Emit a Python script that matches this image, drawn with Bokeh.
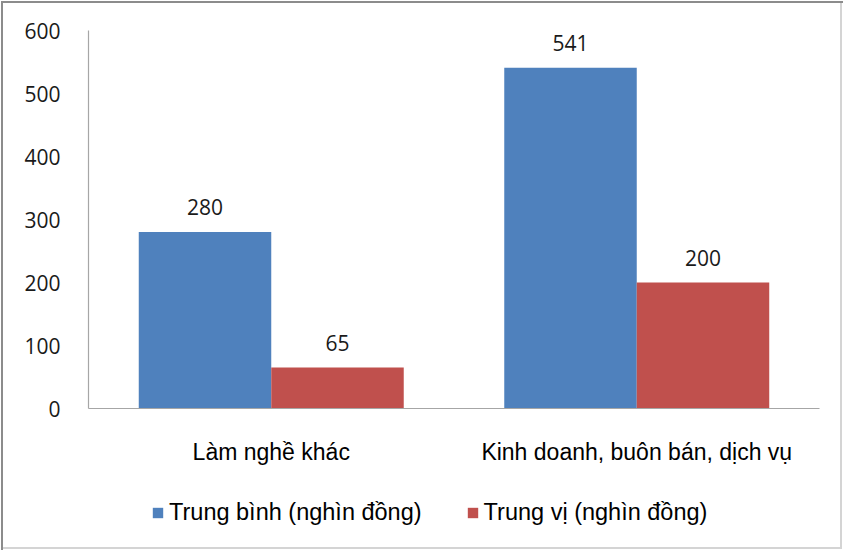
from bokeh.plotting import figure
from bokeh.layouts import column
from bokeh.models import (ColumnDataSource, Range1d, FixedTicker, Legend, LegendItem)
from bokeh.transform import dodge
from bokeh.core.properties import value
from bokeh.embed import file_html
from bokeh.resources import INLINE

# Income by occupation group (thousand VND)
categories = ["Làm nghề khác", "Kinh doanh, buôn bán, dịch vụ"]
mean_values = [280, 541]
median_values = [65, 200]
series_names = ["Trung bình (nghìn đồng)", "Trung vị (nghìn đồng)"]
y_ticks = [0, 100, 200, 300, 400, 500, 600]

BLUE = "#4F81BD"
RED = "#C0504D"
NUM_FONT = "Open Sans"
TXT_FONT = "Liberation Sans"
W = 843

source = ColumnDataSource(dict(
    cat=categories,
    mean=mean_values,
    median=median_values,
    mean_lbl=[str(v) for v in mean_values],
    median_lbl=[str(v) for v in median_values],
))

bw = 0.3625
off = bw / 2

# ---- main bar chart ----
p = figure(
    x_range=categories,
    y_range=Range1d(0, 600),
    width=W, height=480,
    output_backend="svg",
    toolbar_location=None,
    min_border_left=88, min_border_right=24,
    min_border_top=30, min_border_bottom=72,
)
p.border_fill_color = None
p.background_fill_color = "white"
p.outline_line_color = None
p.xgrid.grid_line_color = None
p.ygrid.grid_line_color = None

p.vbar(x=dodge("cat", -off, range=p.x_range), top="mean", width=bw,
       source=source, fill_color=BLUE, line_color=None)
p.vbar(x=dodge("cat", off, range=p.x_range), top="median", width=bw,
       source=source, fill_color=RED, line_color=None)

# value labels above the bars
for col, lbl, dx in (("mean", "mean_lbl", -off), ("median", "median_lbl", off)):
    p.text(x=dodge("cat", dx, range=p.x_range), y=col, text=lbl, source=source,
           text_align="center", text_baseline="middle", y_offset=-25,
           text_font=value(NUM_FONT), text_font_size="21px", text_color="#1a1a1a")

p.yaxis.ticker = FixedTicker(ticks=y_ticks)
for ax in (p.xaxis[0], p.yaxis[0]):
    ax.axis_line_color = "#a6a6a6"
    ax.axis_line_width = 1.2
    ax.major_tick_line_color = None
    ax.minor_tick_line_color = None
p.yaxis.major_label_text_font = NUM_FONT
p.yaxis.major_label_text_font_size = "21px"
p.yaxis.major_label_text_color = "#1a1a1a"
p.yaxis.major_label_standoff = 22
p.xaxis.major_label_text_font = TXT_FONT
p.xaxis.major_label_text_font_size = "23px"
p.xaxis.major_label_text_color = "#000000"
p.xaxis.major_label_standoff = 24

# ---- legend strip under the chart ----
# Hidden key renderers carry the series styling for the legend swatches.
lg = figure(
    width=W, height=70,
    x_range=categories, y_range=Range1d(0, 600),
    output_backend="svg", toolbar_location=None,
    x_axis_location=None, y_axis_location=None,
    min_border_left=0, min_border_right=0, min_border_top=0, min_border_bottom=0,
)
lg.border_fill_color = None
lg.background_fill_color = None
lg.outline_line_color = None
lg.xgrid.grid_line_color = None
lg.ygrid.grid_line_color = None
key_mean = lg.vbar(x=dodge("cat", -off, range=lg.x_range), top="mean", width=bw,
                   source=source, fill_color=BLUE, line_color=None, visible=False)
key_median = lg.vbar(x=dodge("cat", off, range=lg.x_range), top="median", width=bw,
                     source=source, fill_color=RED, line_color=None, visible=False)

legend = Legend(
    items=[LegendItem(label=series_names[0], renderers=[key_mean]),
           LegendItem(label=series_names[1], renderers=[key_median])],
    orientation="horizontal",
    location=(63, 24),
    glyph_width=13, glyph_height=13,
    label_standoff=5, spacing=44,
    label_height=27,
    label_text_font=TXT_FONT, label_text_font_size="23.5px",
    label_text_color="#000000",
    border_line_color=None, background_fill_alpha=0,
    inactive_fill_alpha=0,
    padding=0, margin=0,
)
lg.add_layout(legend, "center")

layout = column(p, lg, spacing=0)
layout.styles = {
    "box-shadow": "inset 1px 1px 0 0 #ffffff, inset 3px 3px 0 0 #8c8c8c, "
                  "inset -1px -1px 0 0 #ffffff, inset -3px -3px 0 0 #d4d4d4",
    "background": "white",
}

open("out.html", "w").write(file_html(layout, INLINE))
